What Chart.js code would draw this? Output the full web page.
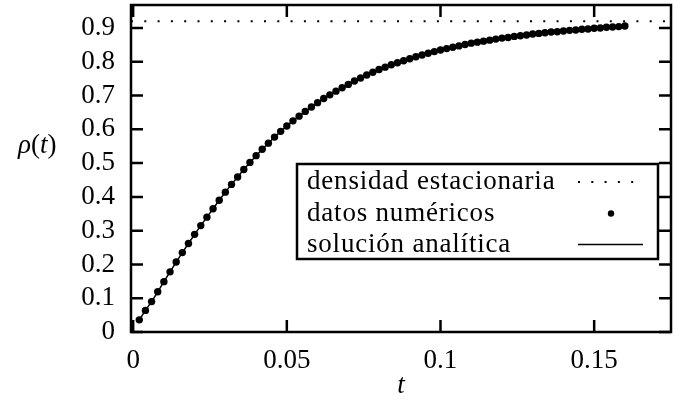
<!DOCTYPE html>
<html>
<head>
<meta charset="utf-8">
<script src="https://cdn.jsdelivr.net/npm/chart.js@4.4.1/dist/chart.umd.min.js"></script>
<style>
  html, body { margin: 0; padding: 0; background: #fff; }
</style>
</head>
<body>
<canvas id="grafica" width="681" height="409"></canvas>
<script>
// valores
const tiempos = [
  0.002, 0.004, 0.006, 0.008, 0.010, 0.012, 0.014, 0.016, 0.018, 0.020,
  0.022, 0.024, 0.026, 0.028, 0.030, 0.032, 0.034, 0.036, 0.038, 0.040,
  0.042, 0.044, 0.046, 0.048, 0.050, 0.052, 0.054, 0.056, 0.058, 0.060,
  0.062, 0.064, 0.066, 0.068, 0.070, 0.072, 0.074, 0.076, 0.078, 0.080,
  0.082, 0.084, 0.086, 0.088, 0.090, 0.092, 0.094, 0.096, 0.098, 0.100,
  0.102, 0.104, 0.106, 0.108, 0.110, 0.112, 0.114, 0.116, 0.118, 0.120,
  0.122, 0.124, 0.126, 0.128, 0.130, 0.132, 0.134, 0.136, 0.138, 0.140,
  0.142, 0.144, 0.146, 0.148, 0.150, 0.152, 0.154, 0.156, 0.158, 0.160
];
const densidad = [
  0.036, 0.064, 0.090, 0.119, 0.149, 0.178, 0.207, 0.235, 0.262, 0.289,
  0.315, 0.340, 0.365, 0.390, 0.414, 0.437, 0.459, 0.481, 0.502, 0.522,
  0.541, 0.559, 0.577, 0.594, 0.610, 0.625, 0.639, 0.653, 0.666, 0.679,
  0.691, 0.702, 0.713, 0.723, 0.733, 0.743, 0.752, 0.761, 0.769, 0.777,
  0.784, 0.791, 0.797, 0.803, 0.809, 0.815, 0.820, 0.825, 0.830, 0.835,
  0.839, 0.843, 0.847, 0.851, 0.855, 0.858, 0.861, 0.864, 0.867, 0.870,
  0.872, 0.875, 0.877, 0.879, 0.882, 0.884, 0.886, 0.888, 0.889, 0.891,
  0.893, 0.894, 0.896, 0.897, 0.899, 0.900, 0.902, 0.903, 0.904, 0.906
];
const densidadEstacionaria = 0.92;
const rangoX = [-0.0007, 0.175];
const rangoY = [0, 0.968];
const ticksX = [0, 0.05, 0.1, 0.15];
const ticksY = [0, 0.1, 0.2, 0.3, 0.4, 0.5, 0.6, 0.7, 0.8, 0.9];
const etiquetas = ['densidad estacionaria', 'datos numéricos', 'solución analítica'];

const fuente = 'Liberation Serif, Times New Roman, serif';
const puntos = tiempos.map((t, i) => ({ x: t, y: densidad[i] }));
const estacionaria = rangoX.map(t => ({ x: t, y: densidadEstacionaria }));

function sinRelleno(s) {
  s.paddingTop = 0; s.paddingBottom = 0; s.paddingLeft = 0; s.paddingRight = 0;
}

// marco con marcas hacia dentro en los cuatro lados
const marco = {
  id: 'marco',
  afterDatasetsDraw(chart) {
    const { ctx, chartArea: a, scales } = chart;
    const largo = 12;
    ctx.save();
    ctx.strokeStyle = '#000';
    ctx.lineWidth = 2.5;
    ctx.beginPath();
    ticksX.forEach(v => {
      const px = scales.x.getPixelForValue(v);
      ctx.moveTo(px, a.bottom); ctx.lineTo(px, a.bottom - largo);
      ctx.moveTo(px, a.top); ctx.lineTo(px, a.top + largo);
    });
    ticksY.forEach(v => {
      const py = scales.y.getPixelForValue(v);
      ctx.moveTo(a.left, py); ctx.lineTo(a.left + largo, py);
      ctx.moveTo(a.right, py); ctx.lineTo(a.right - largo, py);
    });
    ctx.stroke();
    ctx.strokeRect(a.left, a.top, a.right - a.left, a.bottom - a.top);

    // titulos de los ejes
    ctx.fillStyle = '#000';
    ctx.textBaseline = 'alphabetic';
    let x = 18;
    const y = 153;
    [['ρ', 'italic '], ['(', ''], ['t', 'italic '], [')', '']].forEach(p => {
      ctx.font = p[1] + '27px ' + fuente;
      ctx.fillText(p[0], x, y);
      x += ctx.measureText(p[0]).width;
    });
    ctx.font = 'italic 27px ' + fuente;
    ctx.textAlign = 'center';
    ctx.fillText('t', (a.left + a.right) / 2, 393);
    ctx.restore();
  }
};

// leyenda al estilo gnuplot: texto a la izquierda, simbolo a la derecha
const leyenda = {
  id: 'leyenda',
  afterDraw(chart) {
    const { ctx } = chart;
    const caja = { x: 297, y: 164, w: 361, h: 95 };
    const filas = [182, 213.5, 244.5];
    ctx.save();
    ctx.fillStyle = '#fff';
    ctx.fillRect(caja.x, caja.y, caja.w, caja.h);
    ctx.strokeStyle = '#000';
    ctx.lineWidth = 2.5;
    ctx.strokeRect(caja.x, caja.y, caja.w, caja.h);
    ctx.fillStyle = '#000';
    ctx.font = '27px ' + fuente;
    ctx.letterSpacing = '0.8px';
    ctx.textBaseline = 'alphabetic';
    chart.data.datasets.forEach((ds, i) => {
      const cy = filas[i];
      ctx.fillText(ds.label, caja.x + 10, cy + 7);
      ctx.beginPath();
      if (ds.showLine === false) {
        ctx.arc(611, cy, 3.2, 0, Math.PI * 2);
        ctx.fill();
      } else {
        ctx.lineWidth = ds.borderWidth;
        ctx.setLineDash(ds.borderDash || []);
        ctx.moveTo(578, cy);
        ctx.lineTo(643, cy);
        ctx.stroke();
        ctx.setLineDash([]);
      }
    });
    ctx.restore();
  }
};

new Chart(document.getElementById('grafica').getContext('2d'), {
  type: 'scatter',
  data: {
    datasets: [{
      label: etiquetas[0],
      data: estacionaria,
      showLine: true,
      borderColor: '#000',
      borderWidth: 2,
      borderDash: [2, 11.3],
      pointRadius: 0
    }, {
      label: etiquetas[1],
      data: puntos,
      showLine: false,
      backgroundColor: '#000',
      borderColor: '#000',
      pointRadius: 3.7,
      pointBorderWidth: 0
    }, {
      label: etiquetas[2],
      data: puntos,
      showLine: true,
      borderColor: '#000',
      borderWidth: 1.5,
      pointRadius: 0
    }]
  },
  options: {
    responsive: false,
    animation: false,
    devicePixelRatio: 1,
    layout: { padding: { left: 0, right: 10, top: 5, bottom: 0 } },
    plugins: {
      legend: { display: false },
      tooltip: { enabled: false }
    },
    scales: {
      x: {
        type: 'linear',
        min: rangoX[0],
        max: rangoX[1],
        afterBuildTicks: s => { s.ticks = ticksX.map(v => ({ value: v })); },
        afterFit: s => { s.height = 77; sinRelleno(s); },
        grid: { display: false, drawTicks: false },
        border: { display: false },
        ticks: {
          color: '#000',
          padding: 13,
          autoSkip: false,
          maxRotation: 0,
          font: { family: fuente, size: 27 },
          callback: v => String(v)
        }
      },
      y: {
        type: 'linear',
        min: rangoY[0],
        max: rangoY[1],
        afterBuildTicks: s => { s.ticks = ticksY.map(v => ({ value: v })); },
        afterFit: s => { s.width = 131; sinRelleno(s); },
        grid: { display: false, drawTicks: false },
        border: { display: false },
        ticks: {
          color: '#000',
          padding: 16,
          autoSkip: false,
          font: { family: fuente, size: 27 },
          callback: v => String(Math.round(v * 10) / 10)
        }
      }
    }
  },
  plugins: [marco, leyenda]
});
</script>
</body>
</html>
